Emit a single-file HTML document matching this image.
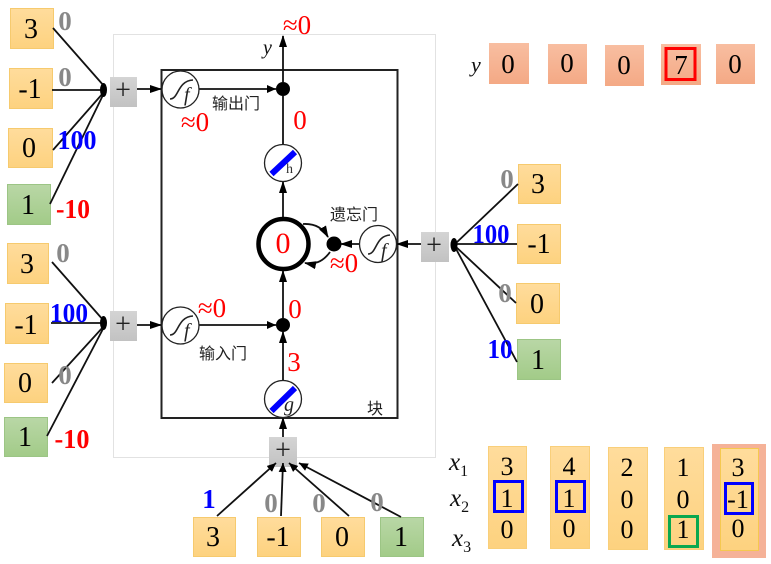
<!DOCTYPE html>
<html><head><meta charset="utf-8">
<style>
html,body{margin:0;padding:0;background:#fff}
svg{display:block}
text{font-family:"Liberation Serif","Noto Serif CJK SC",serif}
.n{font-size:28px;fill:#000;text-anchor:middle}
.y{font-size:27px;fill:#000;text-anchor:middle}
.k{font-size:26px;fill:#000;text-anchor:middle}
.g{font-size:27px;font-weight:bold;fill:#888;text-anchor:middle}
.b{font-size:27px;font-weight:bold;fill:#00f;text-anchor:middle}
.r{font-size:27px;font-weight:bold;fill:#f00;text-anchor:middle}
.rr{font-size:27px;fill:#f00;text-anchor:middle}
.c{font-size:16px;fill:#222;text-anchor:middle;font-family:"Noto Sans CJK SC",sans-serif}
.m{font-size:25px;font-style:italic;fill:#111;text-anchor:start}
.s{font-size:16px;fill:#111;font-style:normal}
.p{font-size:28px;fill:#222;text-anchor:middle}
.l{stroke:#111;stroke-width:1.8;fill:none}
</style></head><body>
<svg width="771" height="564" viewBox="0 0 771 564" xmlns="http://www.w3.org/2000/svg">
<defs>
<linearGradient id="o" x1="0" y1="0" x2="0" y2="1"><stop offset="0" stop-color="#ffdc9c"/><stop offset="1" stop-color="#fdd27f"/></linearGradient>
<linearGradient id="gr" x1="0" y1="0" x2="0" y2="1"><stop offset="0" stop-color="#b9d7a6"/><stop offset="1" stop-color="#a2cb88"/></linearGradient>
<linearGradient id="s" x1="0" y1="0" x2="0" y2="1"><stop offset="0" stop-color="#d4d4d4"/><stop offset="1" stop-color="#c2c2c2"/></linearGradient>
<linearGradient id="sa" x1="0" y1="0" x2="0" y2="1"><stop offset="0" stop-color="#f8bea1"/><stop offset="1" stop-color="#f4a985"/></linearGradient>
<marker id="a" markerWidth="12" markerHeight="10" refX="11" refY="5" orient="auto" markerUnits="userSpaceOnUse"><path d="M0 1L12 5L0 9z" fill="#000"/></marker>
<marker id="as" markerWidth="9" markerHeight="8" refX="9" refY="4" orient="auto" markerUnits="userSpaceOnUse"><path d="M0 0L9 4L0 8z" fill="#000"/></marker>
</defs>

<rect x="113.5" y="34.5" width="322" height="423" fill="none" stroke="#e2e2e2"/>
<rect x="161.5" y="70" width="236" height="348" fill="none" stroke="#222" stroke-width="2"/>

<g stroke-width="1">
<rect x="10.5" y="8.5" width="43" height="40" fill="url(#o)" stroke="#f6ca6e"/>
<rect x="9.5" y="68.5" width="43" height="40" fill="url(#o)" stroke="#f6ca6e"/>
<rect x="8.5" y="128.5" width="44" height="39" fill="url(#o)" stroke="#f6ca6e"/>
<rect x="7.5" y="184.5" width="43" height="40" fill="url(#gr)" stroke="#9cc585"/>
<rect x="7.5" y="243.5" width="41" height="40" fill="url(#o)" stroke="#f6ca6e"/>
<rect x="5.5" y="303.5" width="43" height="40" fill="url(#o)" stroke="#f6ca6e"/>
<rect x="4.5" y="363.5" width="43" height="39" fill="url(#o)" stroke="#f6ca6e"/>
<rect x="4.5" y="417.5" width="43" height="39" fill="url(#gr)" stroke="#9cc585"/>
<rect x="518.5" y="164.5" width="42" height="39" fill="url(#o)" stroke="#f6ca6e"/>
<rect x="517.5" y="224.5" width="43" height="39" fill="url(#o)" stroke="#f6ca6e"/>
<rect x="516.5" y="283.5" width="43" height="40" fill="url(#o)" stroke="#f6ca6e"/>
<rect x="517.5" y="339.5" width="43" height="40" fill="url(#gr)" stroke="#9cc585"/>
<rect x="193.5" y="517.5" width="42" height="39" fill="url(#o)" stroke="#f6ca6e"/>
<rect x="257.5" y="517.5" width="43" height="39" fill="url(#o)" stroke="#f6ca6e"/>
<rect x="321.5" y="517.5" width="43" height="39" fill="url(#o)" stroke="#f6ca6e"/>
<rect x="380.5" y="517.5" width="43" height="39" fill="url(#gr)" stroke="#9cc585"/>
</g>

<g>
<text class="n" x="31" y="38">3</text><text class="n" x="30" y="98">-1</text><text class="n" x="29" y="157">0</text><text class="n" x="28" y="214">1</text>
<text class="n" x="27" y="273">3</text><text class="n" x="26" y="334">-1</text><text class="n" x="25" y="392">0</text><text class="n" x="25" y="446">1</text>
<text class="n" x="538" y="193">3</text><text class="n" x="539" y="253">-1</text><text class="n" x="537" y="313">0</text><text class="n" x="538" y="369">1</text>
<text class="n" x="213" y="546">3</text><text class="n" x="278" y="546">-1</text><text class="n" x="342" y="546">0</text><text class="n" x="401" y="546">1</text>
</g>

<g class="l">
<path d="M53 28L104 86M52 90L104 90M53 150L104 92M50 204L104 93"/>
<path d="M52 262L104 321M51 323L104 323M52 383L104 326M47 436L104 327"/>
<path d="M518 184L455 244M517 244L455 244M516 303L455 246M517 362L455 247"/>
</g>
<ellipse cx="103.500" cy="90" rx="3.500" ry="7" fill="#000"/>
<ellipse cx="103.500" cy="323" rx="3.500" ry="7" fill="#000"/>
<ellipse cx="454" cy="245" rx="3.500" ry="7" fill="#000"/>

<rect x="110" y="77" width="27" height="30" fill="url(#s)"/><text class="p" x="123" y="99">+</text>
<rect x="110" y="311" width="27" height="30" fill="url(#s)"/><text class="p" x="123" y="333">+</text>
<rect x="421" y="232" width="28" height="30" fill="url(#s)"/><text class="p" x="434" y="254">+</text>
<rect x="269" y="437" width="28" height="30" fill="url(#s)"/><text class="p" x="283" y="459">+</text>

<g class="l">
<path d="M217 516L276 463" marker-end="url(#as)"/>
<path d="M281 516L283 463" marker-end="url(#as)"/>
<path d="M349 516L289 463" marker-end="url(#as)"/>
<path d="M401 517L299 463" marker-end="url(#as)"/>
<path d="M283 437L283 418" marker-end="url(#a)"/>
<path d="M137 89L161 89" marker-end="url(#a)"/>
<path d="M137 325L161 325" marker-end="url(#a)"/>
<path d="M421 244L397 244" marker-end="url(#a)"/>
<path d="M199 89L276 89" marker-end="url(#as)"/>
<path d="M199 325L276 325" marker-end="url(#as)"/>
<path d="M359 244L341 244" marker-end="url(#a)"/>
<path d="M283 381L283 332" marker-end="url(#a)"/>
<path d="M283 318L283 271" marker-end="url(#a)"/>
<path d="M283 217L283 182" marker-end="url(#a)"/>
<path d="M283 145L283 96"/>
<path d="M283 82L283 36" marker-end="url(#a)"/>
<path d="M303 224Q320 223 328 237" marker-end="url(#a)"/>
<path d="M330 252Q320 266 305 263" marker-end="url(#a)"/>
</g>

<circle cx="283.500" cy="244" r="25" fill="#fff" stroke="#000" stroke-width="4.500"/>
<circle cx="283" cy="89" r="7" fill="#000"/>
<circle cx="283" cy="325" r="7" fill="#000"/>
<circle cx="334" cy="244" r="7.500" fill="#000"/>

<g>
<circle cx="180.500" cy="89.500" r="18.500" fill="#fff" stroke="#222" stroke-width="1.300"/>
<path d="M170 99C179 99 177 81 193 80" fill="none" stroke="#222" stroke-width="1.600"/>
<text x="184" y="101" font-size="20" font-style="italic" fill="#222">f</text>
<circle cx="180.500" cy="325.500" r="18.500" fill="#fff" stroke="#222" stroke-width="1.300"/>
<path d="M170 335C179 335 177 317 193 316" fill="none" stroke="#222" stroke-width="1.600"/>
<text x="184" y="337" font-size="20" font-style="italic" fill="#222">f</text>
<circle cx="378" cy="244" r="18.500" fill="#fff" stroke="#222" stroke-width="1.300"/>
<path d="M368 254C377 254 375 236 390 235" fill="none" stroke="#222" stroke-width="1.600"/>
<text x="381" y="257" font-size="20" font-style="italic" fill="#222">f</text>
<circle cx="283" cy="163" r="18.500" fill="#fff" stroke="#222" stroke-width="1.300"/>
<path d="M271.500 174L295 152" stroke="#00f" stroke-width="6"/>
<text x="286" y="173" font-size="14" fill="#333" font-family="Liberation Sans">h</text>
<circle cx="283" cy="399" r="18.500" fill="#fff" stroke="#222" stroke-width="1.300"/>
<path d="M271.500 411L295 388" stroke="#00f" stroke-width="6"/>
<text x="284" y="411" font-size="20" font-style="italic" fill="#222">g</text>
</g>

<text class="rr" x="297" y="34">≈0</text>
<text class="rr" x="195" y="131">≈0</text>
<text class="rr" x="300" y="129">0</text>
<text class="rr" x="283" y="253" style="font-size:30px">0</text>
<text class="rr" x="344" y="272">≈0</text>
<text class="rr" x="212" y="317">≈0</text>
<text class="rr" x="295" y="318">0</text>
<text class="rr" x="294" y="371">3</text>

<text class="g" x="65" y="30">0</text><text class="g" x="65" y="86">0</text>
<text class="b" x="77" y="149" textLength="39" lengthAdjust="spacingAndGlyphs">100</text><text class="r" x="73" y="218" textLength="34" lengthAdjust="spacingAndGlyphs">-10</text>
<text class="g" x="63" y="262">0</text><text class="b" x="69" y="322" textLength="38" lengthAdjust="spacingAndGlyphs">100</text>
<text class="g" x="65" y="384">0</text><text class="r" x="72" y="448" textLength="35" lengthAdjust="spacingAndGlyphs">-10</text>
<text class="g" x="507" y="188">0</text><text class="b" x="491" y="243" textLength="37" lengthAdjust="spacingAndGlyphs">100</text>
<text class="g" x="505" y="302">0</text><text class="b" x="500" y="358" textLength="25" lengthAdjust="spacingAndGlyphs">10</text>
<text class="b" x="209" y="508">1</text><text class="g" x="271" y="512">0</text>
<text class="g" x="319" y="512">0</text><text class="g" x="377" y="511">0</text>

<text class="c" x="236" y="109">输出门</text>
<text class="c" x="223" y="359">输入门</text>
<text class="c" x="354" y="220">遗忘门</text>
<text class="c" x="375" y="414">块</text>
<text x="263" y="54" font-size="20" font-style="italic" fill="#111">y</text>

<text x="471" y="72" font-size="22" font-style="italic" fill="#111">y</text>
<rect x="489" y="43" width="40" height="41" fill="url(#sa)"/>
<rect x="548" y="44" width="39" height="40" fill="url(#sa)"/>
<rect x="605" y="45" width="39" height="41" fill="url(#sa)"/>
<rect x="661" y="44" width="40" height="41" fill="url(#sa)"/>
<rect x="716" y="44" width="39" height="40" fill="url(#sa)"/>
<rect x="666" y="48.500" width="29" height="31" fill="none" stroke="#f00" stroke-width="3"/>
<text class="y" x="508" y="73">0</text><text class="y" x="567" y="72">0</text><text class="y" x="624" y="74">0</text><text class="y" x="681" y="74">7</text><text class="y" x="735" y="73">0</text>

<text x="449" y="470" class="m">x<tspan class="s" dy="6">1</tspan></text>
<text x="450" y="506" class="m">x<tspan class="s" dy="6">2</tspan></text>
<text x="452" y="546" class="m">x<tspan class="s" dy="6">3</tspan></text>
<rect x="712" y="444" width="54" height="114" fill="#f5b298"/>
<rect x="488.500" y="446.500" width="38" height="102" fill="url(#o)" stroke="#f9cf7a"/>
<rect x="550.500" y="446.500" width="39" height="102" fill="url(#o)" stroke="#f9cf7a"/>
<rect x="608.500" y="447.500" width="39" height="102" fill="url(#o)" stroke="#f9cf7a"/>
<rect x="664.500" y="447.500" width="39" height="102" fill="url(#o)" stroke="#f9cf7a"/>
<rect x="720.500" y="448.500" width="38" height="102" fill="url(#o)" stroke="#f5c84f"/>
<g>
<text class="k" x="507" y="475">3</text><text class="k" x="507" y="507">1</text><text class="k" x="507" y="538">0</text>
<text class="k" x="569" y="475">4</text><text class="k" x="569" y="507">1</text><text class="k" x="569" y="537">0</text>
<text class="k" x="627" y="476">2</text><text class="k" x="627" y="508">0</text><text class="k" x="627" y="538">0</text>
<text class="k" x="683" y="476">1</text><text class="k" x="683" y="508">0</text><text class="k" x="683" y="538">1</text>
<text class="k" x="738" y="476">3</text><text class="k" x="738" y="508">-1</text><text class="k" x="738" y="537">0</text>
</g>
<g fill="none" stroke-width="3">
<rect x="494.500" y="481.500" width="28" height="30" stroke="#00f"/>
<rect x="556.500" y="481.500" width="28" height="30" stroke="#00f"/>
<rect x="725.500" y="483.500" width="27" height="30" stroke="#00f"/>
<rect x="669.500" y="516.500" width="28" height="30" stroke="#0aa84f"/>
</g>
</svg>
</body></html>
